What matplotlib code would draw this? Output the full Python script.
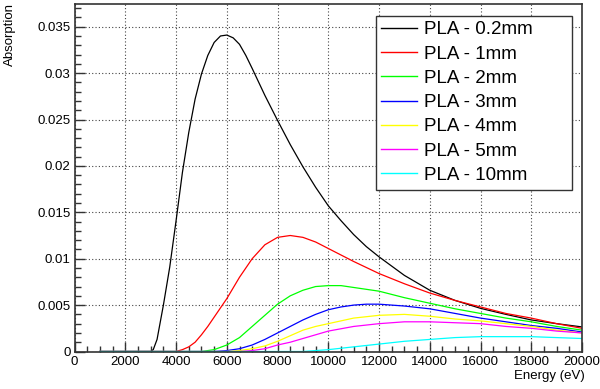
import matplotlib
matplotlib.use("Agg")
import matplotlib.pyplot as plt
from matplotlib.ticker import MultipleLocator, FuncFormatter

plt.rcParams['font.family'] = ['Liberation Sans', 'DejaVu Sans']

# energies (eV) and absorption, one pair per curve
e_02 = [1000, 3000, 3100, 3250, 3500, 3750, 4000, 4250, 4500, 4750, 5000, 5250, 5500, 5750,
        6000, 6250, 6500, 6750, 7000, 7500, 8000, 8500, 9000, 9500, 10000, 10500, 11000, 11500,
        12000, 13000, 14000, 15000, 16000, 17000, 18000, 19000, 20000]
a_02 = [0, 0, 0.0002, 0.0013, 0.0050, 0.0091, 0.0141, 0.0193, 0.0236, 0.0272, 0.0299, 0.0319,
        0.0333, 0.0340, 0.0341, 0.0338, 0.0331, 0.0319, 0.0305, 0.0276, 0.0249, 0.0223, 0.0199,
        0.0177, 0.0157, 0.0141, 0.0126, 0.0113, 0.0102, 0.0082, 0.0066, 0.0055, 0.00465, 0.0040,
        0.0034, 0.0030, 0.00265]

e_1 = [1000, 4000, 4250, 4500, 4750, 5000, 5250, 5500, 5750, 6000, 6500, 7000, 7500, 8000,
       8500, 9000, 9500, 10000, 11000, 12000, 13000, 14000, 15000, 16000, 17000, 18000, 19000, 20000]
a_1 = [0, 0, 0.0002, 0.0005, 0.0010, 0.0018, 0.0027, 0.0037, 0.0047, 0.0057, 0.0080, 0.0100,
       0.0115, 0.0123, 0.0125, 0.0123, 0.0118, 0.0111, 0.0097, 0.0084, 0.0073, 0.0063, 0.0055,
       0.0048, 0.0041, 0.0036, 0.0030, 0.0025]

e_2 = [1000, 5000, 5500, 6000, 6500, 7000, 7500, 8000, 8500, 9000, 9500, 10000, 10500, 11000,
       12000, 13000, 14000, 15000, 16000, 17000, 18000, 19000, 20000]
a_2 = [0, 0, 0.0002, 0.0007, 0.0015, 0.0027, 0.0039, 0.0051, 0.0060, 0.0066, 0.0070, 0.0071,
       0.0071, 0.0069, 0.0065, 0.0058, 0.0052, 0.0046, 0.0041, 0.0036, 0.0032, 0.0027, 0.0023]

e_3 = [1000, 5500, 6000, 6500, 7000, 7500, 8000, 8500, 9000, 9500, 10000, 10500, 11000, 11500,
       12000, 13000, 14000, 15000, 16000, 17000, 18000, 19000, 20000]
a_3 = [0, 0, 0.0001, 0.0003, 0.0007, 0.0013, 0.0020, 0.0027, 0.0034, 0.0040, 0.0045, 0.0048,
       0.0050, 0.0051, 0.0051, 0.0049, 0.0046, 0.0041, 0.0036, 0.0032, 0.0028, 0.0025, 0.0021]

e_4 = [1000, 6000, 6500, 7000, 7500, 8000, 8500, 9000, 9500, 10000, 10500, 11000, 12000, 13000,
       14000, 15000, 16000, 17000, 18000, 19000, 20000]
a_4 = [0, 0, 0.0001, 0.0003, 0.0006, 0.0011, 0.0017, 0.0023, 0.0027, 0.0030, 0.0033, 0.0036,
       0.0039, 0.0040, 0.0038, 0.0035, 0.0033, 0.0030, 0.0027, 0.0023, 0.0020]

e_5 = [1000, 6500, 7000, 7500, 8000, 8500, 9000, 9500, 10000, 11000, 12000, 13000, 14000,
       15000, 16000, 17000, 18000, 19000, 20000]
a_5 = [0, 0, 0.0001, 0.0003, 0.0007, 0.0010, 0.0014, 0.0018, 0.0022, 0.0027, 0.0030, 0.0032,
       0.0032, 0.0031, 0.0030, 0.0027, 0.0025, 0.0022, 0.0020]

e_10 = [1000, 9000, 9500, 10000, 11000, 12000, 13000, 14000, 15000, 16000, 17000, 18000,
        19000, 20000]
a_10 = [0, 0, 0.0001, 0.0002, 0.0005, 0.0008, 0.0011, 0.0013, 0.0015, 0.0016, 0.0016, 0.0016,
        0.0015, 0.0014]

labels = ['PLA - 0.2mm', 'PLA - 1mm', 'PLA - 2mm', 'PLA - 3mm', 'PLA - 4mm', 'PLA - 5mm', 'PLA - 10mm']
colors = ['#000000', '#ff0000', '#00ff00', '#0000ff', '#ffff00', '#ff00ff', '#00ffff']
series = [(e_02, a_02), (e_1, a_1), (e_2, a_2), (e_3, a_3), (e_4, a_4), (e_5, a_5), (e_10, a_10)]

W, H = 600, 389
fig = plt.figure(figsize=(6, 3.89), dpi=100)
ax = fig.add_axes([74.6 / W, 1 - 351.5 / H, (582 - 74.6) / W, (351.5 - 3.5) / H])

for (e, a), c, lab in zip(series, colors, labels):
    ax.plot(e, a, color=c, lw=0.9, label=lab)

ax.set_xlim(0, 20000)
ax.set_ylim(0, 0.0375)
ax.xaxis.set_major_locator(MultipleLocator(2000))
ax.xaxis.set_minor_locator(MultipleLocator(500))
ax.yaxis.set_major_locator(MultipleLocator(0.005))
ax.yaxis.set_minor_locator(MultipleLocator(0.001))
ax.yaxis.set_major_formatter(FuncFormatter(lambda v, p: '%g' % round(v, 4)))
ax.xaxis.set_major_formatter(FuncFormatter(lambda v, p: '%d' % v))
ax.tick_params(which='both', direction='in', top=False, right=False, labelsize=9.5, color='#333333')
ax.tick_params(which='major', length=7, width=1, pad=3)
ax.tick_params(which='minor', length=4, width=1)
ax.grid(True, which='major', ls=(0, (1, 2)), color='#444444', lw=0.8)
for s in ax.spines.values():
    s.set_linewidth(1.2)
    s.set_color('#333333')

ax.set_xlabel('Energy (eV)', fontsize=9.5, loc='right')
ax.xaxis.set_label_coords(1.005, -0.052)
ax.set_ylabel('Absorption', fontsize=9.5, loc='top')
ax.yaxis.set_label_coords(-0.115, 1.0)

# legend box spans the same area as in the reference (ROOT TLegend)
leg_box = (375.7 / W, 1 - 189 / H, (572 - 375.7) / W, (189 - 15.7) / H)
leg = ax.legend(loc='upper left', bbox_to_anchor=leg_box, mode='expand',
                bbox_transform=fig.transFigure, fontsize=13.5, frameon=True, fancybox=False,
                framealpha=1, edgecolor='#333333', handlelength=1.9, handletextpad=0.38,
                labelspacing=0.38, borderpad=0.3, borderaxespad=0)
leg.get_frame().set_linewidth(1.0)
for ln in leg.get_lines():
    ln.set_linewidth(1.0)

fig.savefig('out.png', dpi=100)
